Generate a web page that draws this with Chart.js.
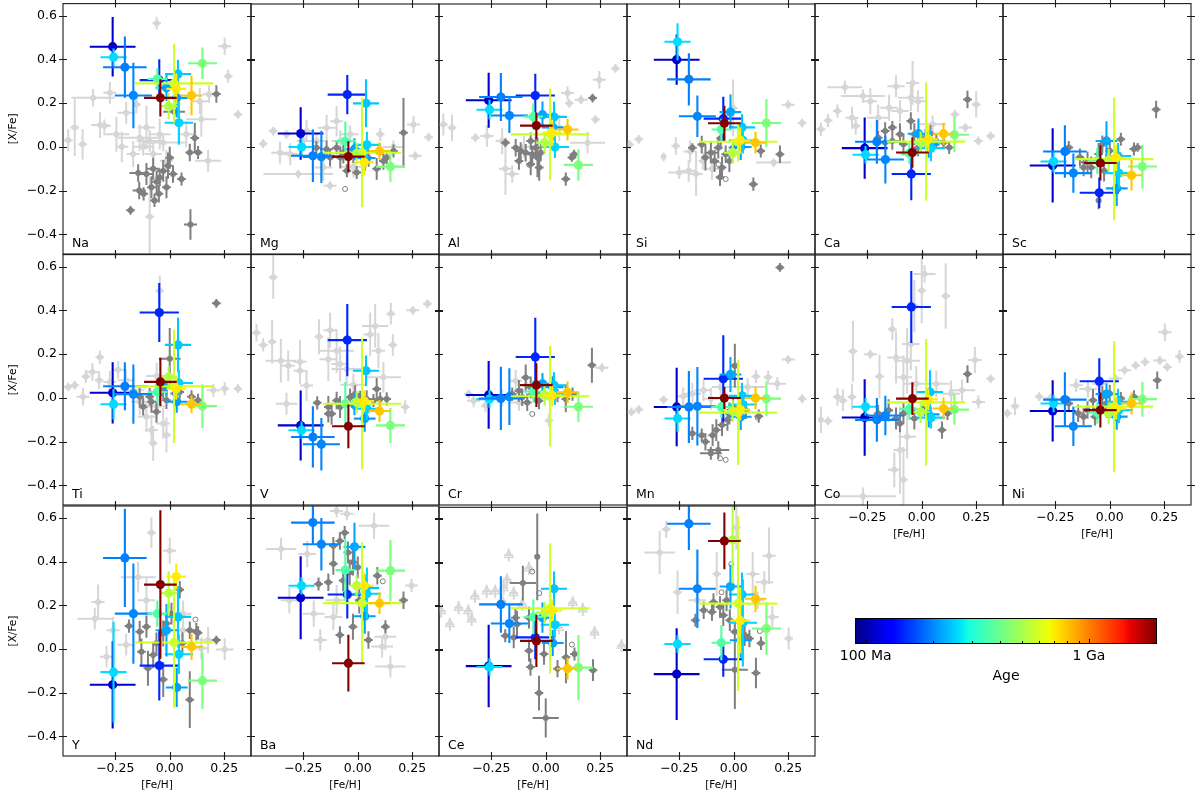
<!DOCTYPE html>
<html>
<head>
<meta charset="utf-8">
<script src="https://cdn.jsdelivr.net/npm/chart.js@4.4.1/dist/chart.umd.min.js"></script>
<style>
  body { margin: 0; background: #fff; width: 1200px; height: 797px; position: relative; overflow: hidden; }
  canvas { position: absolute; }
</style>
</head>
<body>
<script>
// colour scale of the age bar (Ma)
const ageMin = 89.6, ageMax = 2018;
const cbarTicks = [100, 200, 300, 400, 500, 600, 700, 800, 900, 1000];

const xTicks = [-0.25, 0, 0.25];
const yTicks = [-0.4, -0.2, 0, 0.2, 0.4, 0.6];

// coloured stars: A..P
const starFeh    = [-0.262, -0.048, -0.258, -0.206, -0.167, 0.032, 0.038, 0.042, -0.015, -0.057, 0.150, 0.020, -0.005, 0.030, 0.100, -0.043];
const starFehErr = [0.105, 0.09, 0.06, 0.10, 0.085, 0.05, 0.06, 0.065, 0.05, 0.045, 0.067, 0.18, 0.04, 0.045, 0.05, 0.075];
const starAge    = [110, 148, 258, 195, 200, 215, 243, 250, 220, 364, 425, 580, 528, 700, 790, 2000];

const elements = ['Na', 'Mg', 'Al', 'Si', 'Ca', 'Sc', 'Ti', 'V', 'Cr', 'Mn', 'Co', 'Ni', 'Y', 'Ba', 'Ce', 'Nd'];

const naVal = [0.458, 0.305, 0.41, 0.364, 0.235, 0.224, 0.333, 0.11, 0.27, 0.31, 0.382, 0.29, 0.186, 0.265, 0.235, 0.224];
const naErr = [0.136, 0.095, 0.04, 0.14, 0.15, 0.09, 0.065, 0.1, 0.06, 0.05, 0.072, 0.18, 0.06, 0.07, 0.09, 0.085];
const mgVal = [0.062, 0.24, 0.0, -0.04, -0.045, -0.05, 0.2, 0.01, -0.01, 0.027, -0.09, -0.026, -0.03, -0.07, -0.018, -0.044];
const mgErr = [0.12, 0.09, 0.04, 0.12, 0.12, 0.06, 0.11, 0.06, 0.05, 0.09, 0.07, 0.25, 0.05, 0.06, 0.04, 0.07];
const alVal = [0.214, 0.236, 0.171, 0.229, 0.144, 0.09, 0.138, 0.0, 0.148, 0.139, -0.082, 0.058, 0.02, 0.065, 0.08, 0.098];
const alErr = [0.126, 0.1, 0.045, 0.11, 0.08, 0.06, 0.07, 0.05, 0.06, 0.06, 0.072, 0.21, 0.05, 0.06, 0.05, 0.06];
const siVal = [0.40, 0.13, 0.482, 0.31, 0.141, 0.0, 0.09, 0.03, 0.16, 0.08, 0.11, 0.024, -0.026, 0.03, 0.02, 0.109];
const siErr = [0.115, 0.1, 0.085, 0.12, 0.095, 0.06, 0.06, 0.06, 0.08, 0.05, 0.11, 0.09, 0.05, 0.06, 0.05, 0.08];
const caVal = [-0.006, -0.124, -0.036, 0.023, -0.058, 0.01, 0.027, -0.006, 0.06, -0.03, 0.055, 0.024, 0.02, 0.035, 0.06, -0.026];
const caErr = [0.14, 0.12, 0.04, 0.1, 0.11, 0.06, 0.05, 0.06, 0.07, 0.05, 0.08, 0.27, 0.05, 0.06, 0.05, 0.07];
const scVal = [-0.085, -0.21, -0.067, -0.021, -0.12, -0.19, -0.042, -0.12, 0.027, -0.064, -0.09, -0.056, -0.06, -0.05, -0.13, -0.074];
const scErr = [0.17, 0.07, 0.05, 0.12, 0.09, 0.08, 0.06, 0.07, 0.09, 0.06, 0.1, 0.28, 0.05, 0.06, 0.07, 0.08];
const tiVal = [0.023, 0.39, -0.029, 0.053, 0.017, -0.018, 0.242, 0.068, 0.06, 0.027, -0.038, 0.053, 0.095, 0.042, -0.029, 0.073];
const tiErr = [0.14, 0.135, 0.07, 0.11, 0.135, 0.05, 0.125, 0.06, 0.05, 0.05, 0.1, 0.26, 0.05, 0.05, 0.04, 0.11];
const vVal  = [-0.126, 0.264, -0.148, -0.179, -0.212, -0.095, 0.124, -0.05, -0.03, -0.027, -0.126, -0.027, -0.02, -0.015, -0.06, -0.13];
const vErr  = [0.16, 0.165, 0.04, 0.14, 0.12, 0.06, 0.07, 0.05, 0.05, 0.1, 0.08, 0.3, 0.05, 0.05, 0.05, 0.1];
const crVal = [0.014, 0.188, -0.005, -0.002, 0.006, 0.05, 0.058, 0.018, 0.065, 0.03, -0.04, 0.008, 0.015, 0.012, 0.026, 0.059];
const crErr = [0.155, 0.18, 0.04, 0.145, 0.13, 0.05, 0.06, 0.05, 0.05, 0.05, 0.07, 0.23, 0.05, 0.05, 0.05, 0.1];
const mnVal = [-0.041, 0.088, -0.094, -0.041, -0.038, -0.086, 0.01, -0.03, 0.108, -0.041, -0.003, -0.067, -0.06, -0.053, 0.0, 0.0];
const mnErr = [0.18, 0.2, 0.06, 0.165, 0.18, 0.06, 0.06, 0.05, 0.08, 0.05, 0.08, 0.24, 0.05, 0.05, 0.05, 0.05];
const coVal = [-0.089, 0.417, -0.04, -0.1, -0.08, -0.075, 0.027, -0.09, null, -0.05, -0.053, -0.02, -0.064, -0.006, -0.048, -0.003];
const coErr = [0.175, 0.165, 0.04, 0.1, 0.09, 0.06, 0.1, 0.05, null, 0.05, 0.07, 0.29, 0.05, 0.05, 0.05, 0.075];
const niVal = [-0.06, 0.076, -0.026, -0.008, -0.13, -0.086, -0.018, -0.056, 0.017, -0.068, -0.006, -0.04, -0.07, -0.05, -0.026, -0.056];
const niErr = [0.14, 0.105, 0.04, 0.125, 0.09, 0.06, 0.06, 0.06, 0.05, 0.05, 0.08, 0.3, 0.05, 0.05, 0.05, 0.08];
const yVal  = [-0.164, -0.076, -0.106, 0.417, 0.162, -0.176, 0.147, -0.024, 0.086, 0.162, -0.145, 0.03, 0.256, 0.332, 0.01, 0.295];
const yErr  = [0.2, 0.16, 0.23, 0.225, 0.23, 0.09, 0.14, 0.09, 0.12, 0.06, 0.13, 0.3, 0.1, 0.06, 0.06, 0.34];
const baVal = [0.235, 0.25, 0.29, 0.579, 0.48, 0.15, 0.28, 0.253, 0.468, 0.362, 0.359, 0.21, 0.29, 0.29, 0.21, -0.065];
const baErr = [0.19, 0.11, 0.04, 0.1, 0.12, 0.08, 0.06, 0.12, 0.11, 0.14, 0.14, 0.28, 0.05, 0.06, 0.05, 0.13];
const ceVal = [-0.076, 0.056, -0.08, 0.208, 0.12, 0.03, 0.28, 0.114, 0.147, 0.15, -0.083, 0.19, 0.17, 0.18, -0.088, 0.04];
const ceErr = [0.19, 0.1, 0.04, 0.13, 0.09, 0.06, 0.08, 0.06, 0.07, 0.08, 0.15, 0.3, 0.05, 0.05, 0.05, 0.12];
const ndVal = [-0.115, -0.047, 0.023, 0.574, 0.276, 0.04, 0.25, 0.12, 0.286, 0.029, 0.094, 0.208, 0.5, 0.13, 0.23, 0.495];
const ndErr = [0.21, 0.08, 0.04, 0.12, 0.18, 0.08, 0.1, 0.2, 0.1, 0.08, 0.12, 0.4, 0.2, 0.15, 0.06, 0.13];

// grey comparison samples: [Fe/H], [X/Fe], err Fe/H, err X/Fe (5th = 1 for open symbol)
const naDark = [[-0.145,-0.12,0.04,0.04],[-0.14,-0.2,0.03,0.04],[-0.18,-0.29,0.02,0.02],[-0.076,-0.1,0.03,0.05],[-0.06,-0.16,0.02,0.05],[-0.05,-0.215,0.02,0.04],[-0.07,-0.245,0.02,0.03],[-0.03,-0.11,0.03,0.05],[-0.008,-0.086,0.02,0.06],[0,-0.05,0.02,0.05],[0.015,-0.124,0.02,0.04],[0.054,-0.147,0.02,0.03],[0.115,0.04,0.02,0.07],[0.092,-0.026,0.02,0.04],[0.13,-0.026,0.02,0.03],[0.214,0.242,0.02,0.04],[0.095,-0.355,0.03,0.07],[-0.107,-0.124,0.03,0.05],[-0.046,-0.14,0.02,0.04],[-0.015,-0.185,0.02,0.05],[-0.084,-0.185,0.02,0.05],[-0.12,-0.215,0.02,0.03],[0.02,0.16,0.05,0.02]];
const naLight = [[-0.06,0.565,0.02,0.03],[0.252,0.46,0.03,0.04],[0.268,0.323,0.02,0.03],[0.313,0.148,0.02,0.02],[-0.466,0.03,0.02,0.05],[-0.436,0.088,0.02,0.13],[-0.4,0.012,0.02,0.07],[-0.352,0.224,0.1,0.04],[-0.32,0.1,0.04,0.06],[-0.3,0.095,0.03,0.03],[-0.275,0.247,0.03,0.05],[-0.245,0.058,0.06,0.08],[-0.2,0.156,0.04,0.05],[-0.168,-0.033,0.03,0.06],[-0.138,0.042,0.1,0.06],[-0.107,0.088,0.04,0.1],[-0.092,0.027,0.06,0.05],[-0.122,0.0,0.05,0.04],[-0.076,-0.033,0.04,0.06],[-0.046,0.058,0.05,0.07],[-0.092,-0.32,0.02,0.18],[-0.015,-0.064,0.03,0.05],[0.076,0.058,0.04,0.06],[0.145,0.126,0.07,0.08],[0.176,-0.064,0.06,0.05],[0.138,0.209,0.04,0.06],[0.18,0.24,0.03,0.04],[-0.153,0.194,0.02,0.04],[-0.22,0.0,0.03,0.07],[-0.03,0.02,0.1,0.04]];
const mgDark = [[-0.19,-0.003,0.02,0.03],[-0.143,-0.01,0.03,0.04],[-0.097,-0.003,0.02,0.03],[-0.08,-0.048,0.02,0.05],[-0.05,-0.109,0.02,0.03],[-0.005,-0.117,0.02,0.03],[0.087,-0.1,0.02,0.05],[0.118,-0.064,0.02,0.04],[0.133,-0.048,0.02,0.03],[0.21,0.065,0.02,0.16],[-0.127,-0.048,0.02,0.04],[-0.066,-0.026,0.03,0.05],[-0.02,-0.033,0.02,0.04],[0.05,-0.05,0.02,0.04],[0.164,-0.018,0.02,0.03],[-0.058,-0.192,0,0,1]];
const mgLight = [[-0.434,0.015,0.02,0.02],[-0.388,0.073,0.02,0.02],[-0.327,0.058,0.02,0.02],[-0.273,-0.124,0.16,0.02],[-0.31,-0.033,0.04,0.05],[-0.25,0.027,0.03,0.04],[-0.189,0.027,0.04,0.03],[-0.143,0.088,0.04,0.06],[-0.097,0.118,0.03,0.07],[-0.08,0.027,0.04,0.05],[-0.127,-0.177,0.03,0.02],[-0.035,0.058,0.04,0.04],[0.103,0.058,0.02,0.03],[0.164,0.0,0.05,0.03],[0.256,0.103,0.03,0.04],[0.264,-0.04,0.03,0.02],[0.325,0.045,0.02,0.02],[-0.357,-0.026,0.04,0.05],[-0.235,0.073,0.03,0.05],[-0.158,-0.094,0.04,0.06],[-0.02,-0.09,0.06,0.05]];
const alDark = [[-0.185,0.02,0.02,0.02],[-0.138,-0.003,0.02,0.04],[-0.123,-0.064,0.02,0.04],[-0.092,-0.026,0.02,0.04],[-0.069,-0.079,0.02,0.05],[-0.062,-0.033,0.02,0.04],[-0.038,-0.048,0.02,0.09],[-0.069,0.027,0.02,0.04],[-0.03,-0.094,0.02,0.06],[-0.075,-0.082,0,0,1],[0.13,-0.033,0.02,0.02],[0.12,-0.048,0.02,0.02],[0.092,-0.147,0.02,0.03],[0.215,0.224,0.02,0.02],[-0.115,-0.018,0.02,0.04],[-0.046,-0.003,0.02,0.05],[-0.023,-0.026,0.02,0.04]];
const alLight = [[-0.47,0.103,0.02,0.05],[-0.43,0.088,0.02,0.06],[-0.323,0.042,0.02,0.02],[-0.27,0.05,0.03,0.05],[-0.2,0.027,0.03,0.06],[-0.185,-0.1,0.03,0.12],[-0.154,-0.124,0.03,0.04],[0.1,0.247,0.03,0.03],[0.162,0.217,0.03,0.02],[0.246,0.308,0.03,0.04],[0.32,0.36,0.02,0.02],[0.228,0.126,0.02,0.02],[0.192,0.02,0.08,0.05],[0.108,0.2,0.02,0.02],[0.062,0.088,0.03,0.06],[-0.1,0.0,0.05,0.05]];
const siDark = [[-0.19,-0.003,0.02,0.02],[-0.147,0.012,0.02,0.04],[-0.13,-0.048,0.02,0.06],[-0.105,-0.026,0.03,0.05],[-0.088,-0.064,0.02,0.05],[-0.071,-0.003,0.02,0.05],[-0.054,-0.094,0.02,0.05],[-0.037,-0.033,0.02,0.04],[-0.02,-0.064,0.02,0.05],[-0.063,-0.139,0.02,0.04],[-0.037,-0.147,0,0,1],[-0.07,-0.08,0,0,1],[0.09,-0.17,0.02,0.03],[0.212,-0.033,0.02,0.04],[0.124,-0.018,0.02,0.03],[-0.003,-0.003,0.02,0.03],[-0.06,0.04,0.02,0.05]];
const siLight = [[-0.478,0.012,0.02,0.02],[-0.436,0.035,0.02,0.02],[-0.322,-0.045,0.01,0.02],[-0.266,0.005,0.02,0.04],[-0.25,-0.117,0.05,0.03],[-0.207,-0.109,0.03,0.05],[-0.173,-0.124,0.03,0.1],[-0.142,-0.064,0.02,0.04],[-0.003,0.179,0.02,0.13],[0.183,-0.071,0.08,0.02],[0.25,0.194,0.03,0.02],[0.314,0.11,0.02,0.02],[-0.2,-0.02,0.03,0.05],[-0.1,-0.1,0.03,0.05]];
const caDark = [[-0.2,0.042,0.02,0.03],[-0.168,0.073,0.02,0.04],[-0.135,0.088,0.02,0.03],[-0.1,0.058,0.02,0.05],[-0.05,0.118,0.02,0.04],[-0.034,0.058,0.02,0.05],[0.017,0.042,0.02,0.04],[0.067,0.027,0.02,0.03],[0.1,0.02,0.02,0.03],[0.126,-0.003,0.02,0.03],[0.21,0.217,0.02,0.04],[-0.135,0.027,0.03,0.04],[-0.084,0.012,0.02,0.05],[-0.017,-0.003,0.02,0.04],[-0.168,0.02,0.02,0.03],[0.04,0.06,0.02,0.04]];
const caLight = [[-0.353,0.273,0.08,0.03],[-0.27,0.232,0.1,0.03],[-0.236,0.209,0.03,0.06],[-0.463,0.08,0.02,0.03],[-0.43,0.12,0.02,0.03],[-0.387,0.164,0.02,0.03],[-0.32,0.133,0.03,0.05],[-0.303,0.095,0.02,0.04],[-0.118,0.277,0.04,0.05],[-0.042,0.292,0.03,0.1],[-0.05,0.224,0.06,0.06],[-0.017,0.209,0.04,0.05],[-0.15,0.179,0.04,0.06],[-0.1,0.164,0.04,0.05],[0.05,0.103,0.06,0.04],[0.152,0.148,0.02,0.02],[0.2,0.088,0.03,0.02],[0.25,0.194,0.02,0.06],[0.26,0.027,0.02,0.02],[0.316,0.05,0.02,0.02],[-0.2,0.133,0.05,0.06]];
const scDark = [[-0.188,-0.003,0.02,0.03],[-0.137,-0.048,0.02,0.04],[-0.102,-0.071,0.03,0.05],[-0.085,-0.094,0.02,0.05],[-0.051,-0.033,0.02,0.05],[-0.034,0.012,0.02,0.04],[-0.026,-0.109,0.02,0.05],[-0.051,-0.245,0.01,0.04],[0.051,0.035,0.02,0.03],[0.111,-0.01,0.02,0.03],[0.128,-0.003,0.02,0.02],[0.213,0.171,0.02,0.04],[-0.12,-0.094,0.02,0.04],[0.0,-0.018,0.02,0.04]];
const scLight = [];
const tiDark = [[-0.138,0.005,0.02,0.04],[-0.122,-0.041,0.02,0.04],[-0.092,0.005,0.02,0.04],[-0.084,-0.018,0.02,0.05],[-0.061,-0.064,0.02,0.05],[-0.046,0.02,0.02,0.05],[-0.03,0.035,0.02,0.04],[0.0,0.179,0.05,0.14],[-0.015,-0.011,0.02,0.04],[0.046,0.027,0.02,0.03],[0.1,0.005,0.02,0.03],[0.13,-0.011,0.02,0.03],[0.214,0.432,0.02,0.02],[0.023,0.02,0.02,0.03]];
const tiLight = [[-0.466,0.05,0.02,0.02],[-0.436,0.058,0.02,0.02],[-0.398,0.005,0.03,0.04],[-0.385,0.098,0.02,0.03],[-0.355,0.118,0.03,0.04],[-0.324,0.08,0.02,0.04],[-0.321,0.186,0.02,0.03],[-0.275,0.073,0.03,0.05],[-0.237,0.129,0.03,0.04],[-0.2,0.08,0.04,0.05],[-0.168,0.035,0.05,0.06],[-0.138,-0.018,0.04,0.06],[-0.107,-0.086,0.04,0.07],[-0.084,-0.147,0.03,0.07],[-0.076,-0.208,0.02,0.08],[-0.046,0.49,0.02,0.07],[-0.06,-0.04,0.04,0.06],[-0.03,-0.117,0.03,0.07],[-0.015,-0.17,0.02,0.08],[0.2,0.035,0.03,0.03],[0.252,0.042,0.02,0.03],[0.313,0.042,0.02,0.02],[-0.06,0.1,0.05,0.06]];
const vDark = [[-0.186,-0.023,0.02,0.03],[-0.135,-0.042,0.02,0.05],[-0.12,-0.073,0.02,0.05],[-0.097,-0.012,0.02,0.04],[-0.081,-0.042,0.02,0.05],[-0.035,0.003,0.02,0.04],[-0.012,0.018,0.02,0.04],[0.011,0.003,0.02,0.03],[0.041,-0.005,0.02,0.04],[0.072,-0.012,0.02,0.03],[0.103,-0.005,0.02,0.03],[0.133,-0.005,0.02,0.03],[0.087,0.041,0.02,0.05],[-0.135,-0.073,0.02,0.04]];
const vLight = [[-0.388,0.552,0.02,0.1],[-0.465,0.298,0.02,0.04],[-0.434,0.242,0.02,0.03],[-0.393,0.256,0.02,0.1],[-0.353,0.17,0.07,0.1],[-0.319,0.147,0.03,0.07],[-0.265,0.165,0.03,0.1],[-0.265,0.124,0.03,0.06],[-0.235,0.056,0.03,0.07],[-0.178,0.279,0.02,0.08],[-0.127,0.309,0.03,0.08],[-0.135,0.177,0.04,0.1],[-0.097,0.215,0.08,0.1],[-0.081,0.155,0.04,0.08],[-0.051,0.132,0.07,0.07],[0.08,0.329,0.06,0.1],[0.152,0.385,0.02,0.05],[0.161,0.242,0.02,0.05],[0.118,0.094,0.08,0.07],[0.218,-0.042,0.02,0.03],[0.253,0.4,0.03,0.02],[0.32,0.43,0.02,0.02],[-0.327,-0.027,0.05,0.05],[0.057,0.29,0.03,0.1],[0.095,0.215,0.03,0.08],[-0.02,0.06,0.06,0.05]];
const crDark = [[-0.154,0.018,0.02,0.03],[-0.123,0.033,0.02,0.05],[-0.108,0.003,0.02,0.04],[-0.085,-0.02,0.02,0.04],[-0.069,0.048,0.02,0.05],[-0.062,-0.073,0,0,1],[-0.031,-0.012,0.02,0.04],[0.054,0.011,0.02,0.03],[0.092,-0.005,0.02,0.06],[0.123,0.018,0.02,0.03],[0.212,0.15,0.02,0.08],[-0.092,0.094,0.02,0.06],[-0.05,0.02,0.03,0.04]];
const crLight = [[-0.354,0.018,0.02,0.02],[-0.331,-0.012,0.03,0.03],[-0.277,-0.035,0.02,0.03],[-0.138,0.079,0.03,0.05],[-0.123,-0.02,0.05,0.04],[0.015,-0.103,0.02,0.03],[0.258,0.139,0.03,0.02],[-0.2,0.0,0.04,0.04],[-0.09,0.06,0.04,0.04]];
const mnDark = [[-0.19,-0.162,0.02,0.03],[-0.147,-0.17,0.02,0.03],[-0.13,-0.2,0.02,0.04],[-0.105,-0.253,0.05,0.03],[-0.071,-0.238,0.05,0.04],[-0.08,-0.147,0.02,0.05],[-0.054,-0.124,0.02,0.05],[-0.029,-0.1,0.02,0.05],[-0.02,-0.071,0.02,0.05],[-0.003,-0.041,0.02,0.05],[-0.063,-0.276,0,0,1],[-0.037,-0.283,0,0,1],[0.056,-0.056,0.02,0.04],[0.115,-0.083,0.02,0.03],[0.212,0.598,0.02,0.02],[0.005,0.148,0.02,0.1],[-0.097,-0.17,0.02,0.05],[0.11,-0.09,0,0,1]];
const mnLight = [[-0.47,-0.064,0.02,0.02],[-0.436,-0.053,0.02,0.02],[-0.322,-0.008,0.02,0.02],[-0.232,0.008,0.03,0.04],[-0.19,0.02,0.04,0.05],[-0.139,0.035,0.04,0.05],[-0.105,-0.003,0.04,0.05],[0.102,0.098,0.02,0.03],[0.158,0.095,0.02,0.03],[0.2,0.065,0.04,0.03],[0.25,0.176,0.03,0.02],[0.314,-0.003,0.02,0.02],[0.064,0.05,0.08,0.04],[-0.06,0.05,0.04,0.05]];
const coDark = [[-0.2,-0.071,0.02,0.04],[-0.152,-0.056,0.02,0.05],[-0.118,-0.094,0.02,0.05],[-0.084,-0.071,0.02,0.05],[-0.034,-0.094,0.02,0.05],[0.017,-0.041,0.02,0.04],[0.118,-0.071,0.02,0.03],[0.093,-0.147,0.02,0.04],[0.21,0.11,0.02,0.04],[-0.1,-0.117,0.02,0.04],[0.12,-0.06,0,0,1]];
const coLight = [[-0.463,-0.1,0.01,0.06],[-0.43,-0.105,0.02,0.02],[-0.387,0.005,0.02,0.04],[-0.362,-0.011,0.02,0.05],[-0.32,0.005,0.02,0.06],[-0.316,0.214,0.02,0.14],[-0.236,0.2,0.03,0.02],[-0.194,0.098,0.02,0.1],[-0.135,0.315,0.02,0.05],[-0.118,0.186,0.04,0.12],[-0.084,0.095,0.04,0.1],[-0.067,0.171,0.06,0.15],[-0.05,0.247,0.04,0.12],[0.0,0.492,0.02,0.15],[0.013,0.568,0.05,0.04],[-0.034,0.421,0.02,0.12],[0.11,0.467,0.02,0.15],[-0.1,-0.238,0.03,0.2],[-0.126,-0.329,0.03,0.08],[-0.084,-0.374,0.02,0.15],[-0.27,-0.45,0.15,0.04],[-0.067,-0.177,0.04,0.1],[-0.025,0.065,0.06,0.08],[0.067,0.065,0.06,0.06],[0.244,0.174,0.03,0.06],[0.26,-0.018,0.03,0.03],[0.316,0.088,0.02,0.02],[0.185,0.035,0.06,0.05],[0.135,0.02,0.04,0.06]];
const niDark = [[-0.188,-0.026,0.02,0.03],[-0.145,-0.071,0.02,0.04],[-0.12,-0.086,0.02,0.04],[-0.102,-0.056,0.02,0.04],[-0.077,-0.011,0.02,0.05],[-0.068,-0.086,0.02,0.04],[-0.034,0.005,0.02,0.05],[0.0,0.02,0.02,0.04],[0.051,-0.003,0.02,0.03],[0.111,0.005,0.02,0.03],[0.218,0.08,0.02,0.04],[-0.017,-0.026,0.02,0.04]];
const niLight = [[-0.47,-0.071,0.02,0.02],[-0.435,-0.038,0.02,0.04],[-0.324,0.005,0.02,0.02],[-0.273,-0.003,0.03,0.02],[-0.154,0.058,0.03,0.03],[-0.051,0.065,0.03,0.03],[0.026,0.088,0.03,0.02],[0.068,0.126,0.03,0.02],[0.119,0.148,0.02,0.02],[0.162,0.164,0.02,0.02],[0.23,0.171,0.03,0.02],[0.264,0.141,0.02,0.02],[0.253,0.3,0.03,0.04],[0.32,0.189,0.02,0.03],[-0.1,0.04,0.04,0.04]];
const yDark = [[-0.187,0.105,0.02,0.03],[-0.138,0.079,0.02,0.05],[-0.13,-0.012,0.02,0.06],[-0.107,0.102,0.02,0.05],[-0.1,-0.088,0.02,0.08],[-0.076,-0.027,0.02,0.06],[-0.061,0.026,0.02,0.05],[-0.03,0.071,0.02,0.06],[-0.015,0.117,0.02,0.05],[0.008,0.162,0.02,0.05],[0.046,0.271,0.02,0.04],[0.058,0.026,0.02,0.05],[0.092,0.086,0.02,0.04],[0.122,0.079,0.02,0.04],[0.092,-0.232,0.02,0.13],[-0.03,-0.14,0.02,0.08],[0.214,0.041,0.02,0.02],[0.118,0.135,0,0,1],[0.13,0.074,0.02,0.03]];
const yLight = [[-0.084,0.533,0.02,0.07],[0.0,0.45,0.03,0.06],[-0.145,0.329,0.08,0.07],[-0.329,0.215,0.03,0.08],[-0.344,0.139,0.08,0.05],[-0.26,0.086,0.03,0.06],[-0.29,-0.035,0.03,0.05],[0.061,0.086,0.06,0.06],[0.145,0.003,0.03,0.05],[0.176,0.041,0.04,0.06],[0.252,-0.002,0.04,0.05],[-0.107,0.223,0.04,0.1],[0.061,0.162,0.04,0.06],[-0.2,0.02,0.04,0.05]];
const baDark = [[-0.112,0.473,0.02,0.04],[-0.082,0.495,0.02,0.04],[-0.06,0.533,0.02,0.03],[-0.045,0.442,0.02,0.05],[-0.022,0.397,0.02,0.06],[-0.112,0.39,0.02,0.05],[-0.135,0.306,0.02,0.04],[-0.18,0.298,0.02,0.03],[-0.067,0.314,0.02,0.05],[-0.037,0.35,0.02,0.06],[0.0,0.374,0.02,0.05],[0.007,0.223,0.02,0.06],[-0.082,0.064,0.02,0.04],[-0.022,0.102,0.02,0.06],[0.049,0.041,0.02,0.04],[0.127,0.102,0.02,0.03],[0.21,0.223,0.02,0.04],[0.09,0.336,0.02,0.04],[0.115,0.31,0,0,1]];
const baLight = [[-0.352,0.458,0.07,0.05],[-0.232,0.435,0.04,0.06],[-0.097,0.632,0.03,0.03],[-0.05,0.62,0.03,0.03],[0.075,0.564,0.07,0.06],[0.247,0.291,0.03,0.03],[-0.314,0.223,0.04,0.06],[-0.202,0.162,0.05,0.06],[-0.172,0.041,0.03,0.05],[-0.112,0.147,0.04,0.06],[0.127,0.056,0.05,0.06],[0.15,-0.08,0.07,0.05],[0.112,0.011,0.05,0.05],[-0.097,0.223,0.05,0.07]];
const ceDark = [[-0.105,0.306,0.06,0.08],[-0.039,0.427,0.01,0.2],[-0.139,0.147,0.02,0.04],[-0.132,0.117,0.02,0.06],[-0.186,0.064,0.02,0.03],[-0.147,0.056,0.02,0.05],[-0.077,0.147,0.02,0.05],[-0.077,-0.005,0.02,0.05],[-0.07,-0.08,0.02,0.04],[-0.031,-0.2,0.02,0.08],[0.0,-0.315,0.06,0.09],[-0.008,-0.02,0.02,0.05],[0.054,-0.088,0.02,0.04],[0.093,-0.035,0.02,0.12],[0.132,-0.02,0.02,0.03],[0.217,-0.095,0.02,0.05],[-0.062,0.359,0,0,1],[0.12,0.023,0,0,1],[-0.03,0.26,0,0,1]];
const ceLight = [[-0.48,0.177,0.02,0.03],[-0.44,0.117,0.02,0.03],[-0.4,0.192,0.02,0.03],[-0.356,0.177,0.02,0.03],[-0.34,0.139,0.02,0.03],[-0.325,0.245,0.02,0.03],[-0.271,0.268,0.02,0.03],[-0.232,0.268,0.02,0.03],[-0.193,0.283,0.02,0.03],[-0.17,0.435,0.02,0.03],[-0.178,0.321,0.02,0.03],[-0.147,0.26,0.02,0.03],[-0.108,0.208,0.02,0.03],[-0.077,0.374,0.02,0.03],[0.124,0.215,0.02,0.03],[0.17,0.185,0.02,0.03],[0.224,0.079,0.02,0.03],[0.348,0.018,0.02,0.03],[-0.2,0.223,0.02,0.03],[0.06,0.1,0.02,0.03]];
const ndDark = [[-0.176,0.132,0.02,0.03],[-0.138,0.177,0.02,0.04],[-0.093,0.215,0.02,0.04],[-0.063,0.192,0.02,0.05],[-0.048,0.155,0.02,0.05],[-0.018,0.132,0.02,0.05],[-0.033,0.223,0.02,0.05],[-0.011,0.389,0,0,1],[-0.056,0.26,0,0,1],[0.005,0.079,0.02,0.05],[0.05,0.064,0.02,0.05],[0.072,0.048,0.02,0.04],[0.125,0.026,0.02,0.03],[0.005,-0.095,0.06,0.18],[0.102,-0.11,0.02,0.07],[0.12,0.082,0,0,1],[-0.1,0.17,0.02,0.04]];
const ndLight = [[-0.31,0.548,0.02,0.04],[-0.34,0.442,0.07,0.1],[-0.258,0.26,0.02,0.1],[-0.168,0.223,0.04,0.12],[-0.078,0.344,0.02,0.1],[0.012,0.556,0.02,0.1],[0.162,0.427,0.03,0.13],[0.087,0.344,0.03,0.1],[0.14,0.306,0.04,0.05],[0.177,0.147,0.03,0.05],[0.252,0.048,0.02,0.05],[0.11,0.223,0.03,0.04]];

const panelVal   = [naVal, mgVal, alVal, siVal, caVal, scVal, tiVal, vVal, crVal, mnVal, coVal, niVal, yVal, baVal, ceVal, ndVal];
const panelErr   = [naErr, mgErr, alErr, siErr, caErr, scErr, tiErr, vErr, crErr, mnErr, coErr, niErr, yErr, baErr, ceErr, ndErr];
const panelDark  = [naDark, mgDark, alDark, siDark, caDark, scDark, tiDark, vDark, crDark, mnDark, coDark, niDark, yDark, baDark, ceDark, ndDark];
const panelLight = [naLight, mgLight, alLight, siLight, caLight, scLight, tiLight, vLight, crLight, mnLight, coLight, niLight, yLight, baLight, ceLight, ndLight];

// layout (pixels)
const colLeft = [63, 251, 439, 627, 815, 1003];
const rowTop = [3, 254, 505];
const panelW = 188, panelH = 251;
const padL = 64, padT = 4, padR = 8, padB = 44;

Chart.defaults.font.family = 'DejaVu Sans';
Chart.defaults.color = '#000';

function jet(t) {
  const seg = pts => {
    for (let k = 1; k < pts.length; k++) {
      if (t <= pts[k][0]) {
        const [x0, y0] = pts[k - 1], [x1, y1] = pts[k];
        return y0 + (y1 - y0) * (t - x0) / (x1 - x0);
      }
    }
    return pts[pts.length - 1][1];
  };
  const r = seg([[0, 0], [0.35, 0], [0.66, 1], [0.89, 1], [1, 0.5]]);
  const g = seg([[0, 0], [0.125, 0], [0.375, 1], [0.64, 1], [0.91, 0], [1, 0]]);
  const b = seg([[0, 0.5], [0.11, 1], [0.34, 1], [0.65, 0], [1, 0]]);
  return `rgb(${Math.round(r * 255)},${Math.round(g * 255)},${Math.round(b * 255)})`;
}
function ageColor(age) {
  const t = (Math.log10(age) - Math.log10(ageMin)) / (Math.log10(ageMax) - Math.log10(ageMin));
  return jet(Math.min(1, Math.max(0, t)));
}
const fmt = (v, d) => (v < 0 ? '\u2212' : '') + Math.abs(v).toFixed(d);

// error bars drawn just before each dataset's markers
const errorBars = {
  id: 'errorBars',
  beforeDatasetDraw(chart, args) {
    const ds = chart.data.datasets[args.index];
    if (!ds.barColor) return;
    const { ctx, chartArea: a, scales: { x, y } } = chart;
    ctx.save();
    ctx.beginPath();
    ctx.rect(a.left, a.top, a.width, a.height);
    ctx.clip();
    ctx.strokeStyle = ds.barColor;
    ctx.lineWidth = ds.barWidth;
    ctx.beginPath();
    ds.data.forEach(p => {
      if (p.y == null) return;
      const px = x.getPixelForValue(p.x), py = y.getPixelForValue(p.y);
      if (p.ex) { ctx.moveTo(x.getPixelForValue(p.x - p.ex), py); ctx.lineTo(x.getPixelForValue(p.x + p.ex), py); }
      if (p.ey) { ctx.moveTo(px, y.getPixelForValue(p.y - p.ey)); ctx.lineTo(px, y.getPixelForValue(p.y + p.ey)); }
    });
    ctx.stroke();
    ctx.restore();
  }
};

// box with in-out ticks on all four sides, plus element name
const frame = {
  id: 'frame',
  afterDraw(chart, args, opts) {
    const { ctx, chartArea: a, scales: { x, y } } = chart;
    ctx.save();
    ctx.strokeStyle = '#1a1a1a';
    ctx.lineWidth = 1.1;
    ctx.strokeRect(a.left, a.top, a.width, a.height);
    ctx.beginPath();
    x.ticks.forEach(t => {
      const px = Math.round(x.getPixelForValue(t.value)) + 0.5;
      ctx.moveTo(px, a.top - 4); ctx.lineTo(px, a.top + 4);
      ctx.moveTo(px, a.bottom - 4); ctx.lineTo(px, a.bottom + 4);
    });
    y.ticks.forEach(t => {
      const py = Math.round(y.getPixelForValue(t.value)) + 0.5;
      ctx.moveTo(a.left - 4, py); ctx.lineTo(a.left + 4, py);
      ctx.moveTo(a.right - 4, py); ctx.lineTo(a.right + 4, py);
    });
    ctx.stroke();
    if (opts.text) {
      ctx.fillStyle = '#000';
      ctx.font = '12.5px "DejaVu Sans"';
      ctx.textAlign = 'left';
      ctx.textBaseline = 'alphabetic';
      ctx.fillText(opts.text, a.left + 9, a.bottom - 7);
    }
    ctx.restore();
  }
};

function toPoints(list) {
  return list.map(p => ({ x: p[0], y: p[1], ex: p[2], ey: p[3], open: p[4] === 1 }));
}

elements.forEach((el, k) => {
  const row = Math.floor(k / 6), col = k % 6;
  const showX = row === 2 || k === 10 || k === 11;
  const showY = col === 0;

  const canvas = document.createElement('canvas');
  canvas.width = padL + panelW + padR;
  canvas.height = padT + panelH + padB;
  canvas.style.left = (colLeft[col] - padL) + 'px';
  canvas.style.top = (rowTop[row] - padT) + 'px';
  document.body.appendChild(canvas);

  const datasets = [];
  const light = toPoints(panelLight[k]);
  datasets.push({
    data: light, order: 100, barColor: '#d6d6d6', barWidth: 2,
    pointStyle: el === 'Ce' ? 'triangle' : 'circle',
    pointRadius: el === 'Ce' ? 5 : 3,
    backgroundColor: el === 'Ce' ? 'rgba(255,255,255,0)' : '#d6d6d6',
    borderColor: '#d6d6d6', borderWidth: el === 'Ce' ? 1.3 : 0
  });
  const dark = toPoints(panelDark[k]);
  datasets.push({
    data: dark, order: 90, barColor: '#7f7f7f', barWidth: 2,
    pointRadius: dark.map(p => p.open ? 2.5 : 3),
    backgroundColor: dark.map(p => p.open ? 'rgba(255,255,255,0)' : '#7f7f7f'),
    borderColor: '#7f7f7f',
    borderWidth: dark.map(p => p.open ? 1 : 0)
  });
  starFeh.forEach((feh, i) => {
    const v = panelVal[k][i];
    if (v == null) return;
    const c = ageColor(starAge[i]);
    datasets.push({
      data: [{ x: feh, y: v, ex: starFehErr[i], ey: panelErr[k][i] }],
      order: 50 - i, barColor: c, barWidth: 2.1,
      pointRadius: 4.6, backgroundColor: c, borderWidth: 0
    });
  });

  new Chart(canvas, {
    type: 'scatter',
    data: { datasets },
    options: {
      responsive: false,
      animation: false,
      events: [],
      layout: { padding: { left: 0, top: padT, right: padR, bottom: 0 } },
      plugins: { legend: { display: false }, tooltip: { enabled: false }, frame: { text: el } },
      scales: {
        x: {
          type: 'linear', min: -0.49, max: 0.373,
          afterBuildTicks: s => { s.ticks = xTicks.map(v => ({ value: v })); },
          afterFit: s => { s.height = padB; s.paddingLeft = 0; s.paddingRight = 0; },
          grid: { display: false, drawTicks: false },
          border: { display: false },
          ticks: { display: showX, autoSkip: false, maxRotation: 0, padding: 5, font: { size: 12.5 }, callback: v => fmt(v, 2) },
          title: { display: showX, text: '[Fe/H]', font: { size: 10.5 }, padding: { top: 0, bottom: 8.5 } }
        },
        y: {
          type: 'linear', min: -0.49, max: 0.655,
          afterBuildTicks: s => { s.ticks = yTicks.map(v => ({ value: v })); },
          afterFit: s => { s.width = padL; s.paddingTop = 0; s.paddingBottom = 0; },
          grid: { display: false, drawTicks: false },
          border: { display: false },
          ticks: { display: showY, autoSkip: false, padding: 6, font: { size: 12.5 }, callback: v => fmt(v, 1) },
          title: { display: showY, text: '[X/Fe]', font: { size: 10.5 }, padding: { top: 7.5, bottom: 0 } }
        }
      }
    },
    plugins: [errorBars, frame]
  });
});

// colour bar for the age
const cbar = {
  id: 'cbar',
  afterDraw(chart) {
    const { ctx, chartArea: a, scales: { x } } = chart;
    ctx.save();
    const grad = ctx.createLinearGradient(a.left, 0, a.right, 0);
    [0, 0.11, 0.125, 0.34, 0.35, 0.375, 0.64, 0.65, 0.66, 0.89, 0.91, 1].forEach(t => grad.addColorStop(t, jet(t)));
    ctx.fillStyle = grad;
    ctx.fillRect(a.left, a.top, a.width, a.height);
    ctx.strokeStyle = '#000';
    ctx.lineWidth = 1;
    ctx.strokeRect(a.left + 0.5, a.top + 0.5, a.width - 1, a.height - 1);
    ctx.beginPath();
    x.ticks.forEach(t => {
      const px = Math.round(x.getPixelForValue(t.value)) + 0.5;
      const len = (t.value === 100 || t.value === 1000) ? 5 : 3;
      ctx.moveTo(px, a.bottom); ctx.lineTo(px, a.bottom - len);
    });
    ctx.stroke();
    ctx.restore();
  }
};

const cbCanvas = document.createElement('canvas');
cbCanvas.width = 342;
cbCanvas.height = 90;
cbCanvas.style.left = '835px';
cbCanvas.style.top = '610px';
document.body.appendChild(cbCanvas);

new Chart(cbCanvas, {
  type: 'scatter',
  data: { datasets: [] },
  options: {
    responsive: false,
    animation: false,
    events: [],
    layout: { padding: { left: 20, top: 8, right: 20, bottom: 0 } },
    plugins: { legend: { display: false }, tooltip: { enabled: false } },
    scales: {
      x: {
        type: 'logarithmic', min: ageMin, max: ageMax,
        afterBuildTicks: s => { s.ticks = cbarTicks.map(v => ({ value: v })); },
        afterFit: s => { s.height = 56; s.paddingLeft = 0; s.paddingRight = 0; },
        grid: { display: false, drawTicks: false },
        border: { display: false },
        ticks: { autoSkip: false, maxRotation: 0, padding: 4, font: { size: 14 },
          callback: v => v === 100 ? '100 Ma' : (v === 1000 ? '1 Ga' : '') },
        title: { display: true, text: 'Age', font: { size: 14 }, padding: { top: 0, bottom: 15 } }
      },
      y: { display: false, min: 0, max: 1 }
    }
  },
  plugins: [cbar]
});
</script>
</body>
</html>
